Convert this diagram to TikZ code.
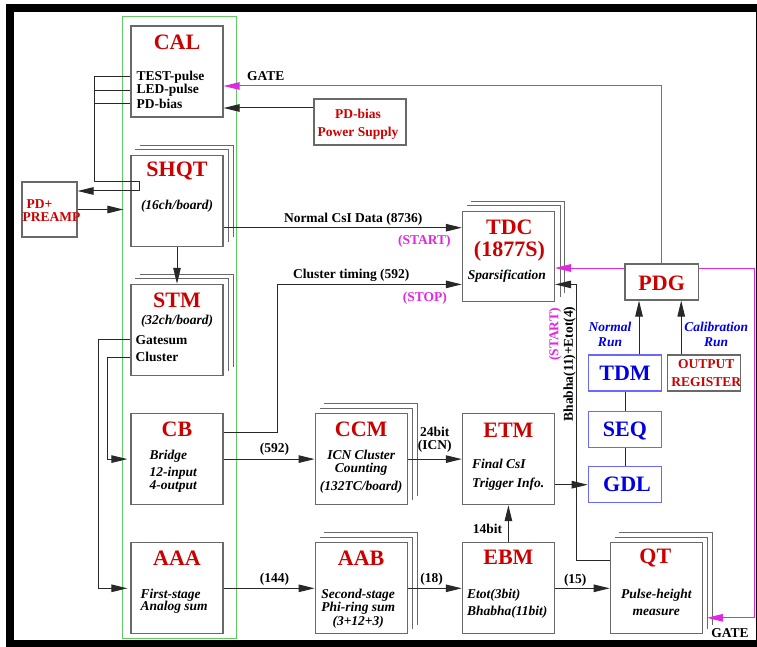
\documentclass[tikz,border=0pt]{standalone}
\usepackage{fontspec}
\setmainfont{Liberation Serif}
\usetikzlibrary{positioning,arrows.meta}
\definecolor{boxgray}{RGB}{105,105,105}
\definecolor{wiregray}{RGB}{40,40,40}
\definecolor{gatemag}{RGB}{225,40,225}
\definecolor{titlered}{RGB}{205,0,0}
\definecolor{runblue}{RGB}{0,0,225}
\definecolor{blueedge}{RGB}{105,105,255}
\definecolor{groupgreen}{RGB}{95,205,95}

\begin{document}
\begin{tikzpicture}[x=1pt,y=-1pt,>={Triangle[length=16pt,width=7.5pt]},
  blk/.style={draw=boxgray,line width=1.2pt,minimum width=92pt,minimum height=91pt,inner sep=0pt},
  sblk/.style={blk,minimum width=73.4pt,minimum height=36pt},
  ttl/.style={inner sep=0pt,text=titlered,align=center,font=\fontsize{22}{21.7}\selectfont\bfseries},
  bttl/.style={ttl,text=runblue},
  lbl/.style={inner sep=0pt,align=center,font=\fontsize{13.5}{13.4}\selectfont\bfseries},
  sub/.style={inner sep=0pt,align=center,font=\fontsize{13.5}{12.3}\selectfont\bfseries\itshape},
  run/.style={sub,text=runblue,font=\fontsize{13.5}{15.6}\selectfont\bfseries\itshape},
  wire/.style={draw=wiregray,line width=1pt},
  mag/.style={draw=gatemag,line width=1pt}]
\useasboundingbox (0,0) rectangle (757,647);
\fill (6,4) rectangle (757,647);
\fill[white] (14,12) rectangle (755.5,640);
\draw[groupgreen,line width=1pt] (122,17) rectangle (236,638);

\node[blk] (cal) at (177,71.5) {};
\node[blk,below=37pt of cal] (shqt) {};
\node[blk,below=37pt of shqt] (stm) {};
\node[blk,below=37pt of stm] (cb) {};
\node[blk,below=37pt of cb] (aaa) {};
\node[blk,right=91pt of cb] (ccm) {};
\node[blk,right=91pt of aaa] (aab) {};
\node[blk,right=54pt of ccm] (etm) {};
\node[blk,right=54pt of aab] (ebm) {};
\node[blk,right=54.7pt of ebm] (qt) {};
\node[blk,minimum height=90pt,above=111pt of etm] (tdc) {};
\node[blk,minimum height=46pt] (psu) at (360,122) {};
\node[blk,minimum width=55pt,minimum height=55pt] (preamp) at (49.5,209.5) {};
\node[sblk] (pdg) at (661.7,282) {};
\node[sblk,draw=blueedge] (tdm) at (625,373) {};
\node[sblk,draw=blueedge,below=19pt of tdm] (seq) {};
\node[sblk,draw=blueedge,below=18.3pt of seq] (gdl) {};
\node[sblk,right=4.3pt of tdm] (outreg) {};
\foreach \n in {shqt,stm,tdc,ccm,aab,qt}
  \foreach \d in {5,9.5}
    \draw[boxgray,line width=1pt] ([shift={(\d pt,\d pt)}]\n.north west) -| ([shift={(\d pt,\d pt)}]\n.south east);

\node[ttl] (calt) at ([yshift=29pt]cal.center) {CAL};
\node[lbl,anchor=west] (testp) at ([xshift=6pt,yshift=-5.5pt]cal.west) {TEST-pulse};
\node[lbl,anchor=west] (ledp) at ([xshift=6pt,yshift=-19pt]cal.west) {LED-pulse};
\node[lbl,anchor=west] (pdb) at ([xshift=6pt,yshift=-32.5pt]cal.west) {PD-bias};
\node[ttl] (shqtt) at ([yshift=30pt]shqt.center) {SHQT};
\node[sub] (shqts) at ([yshift=-5.5pt]shqt.center) {(16ch/board)};
\node[ttl] (stmt) at ([yshift=30pt]stm.center) {STM};
\node[sub] (stms) at ([yshift=8.2pt]stm.center) {(32ch/board)};
\node[lbl,anchor=west] (gsum) at ([xshift=5pt,yshift=-9.8pt]stm.west) {Gatesum};
\node[lbl,anchor=west] (clus) at ([xshift=5pt,yshift=-27.2pt]stm.west) {Cluster};
\node[ttl] (cbt) at ([yshift=30pt]cb.center) {CB};
\node[sub,anchor=west,align=left] (cbs) at ([xshift=19pt,yshift=-12pt]cb.west) {Bridge\\[4.7pt]12-input\\4-output};
\node[ttl] (aaat) at ([yshift=30pt]aaa.center) {AAA};
\node[sub,anchor=west,align=left] (aaas) at ([xshift=10pt,yshift=-13.2pt]aaa.west) {First-stage\\Analog sum};
\node[ttl] (ccmt) at ([yshift=30pt]ccm.center) {CCM};
\node[sub] (ccms) at ([yshift=-13pt]ccm.center) {ICN Cluster\\Counting\\[6.4pt](132TC/board)};
\node[ttl] (aabt) at ([yshift=30pt]aab.center) {AAB};
\node[sub] (aabs) at ([xshift=-3pt,yshift=-20.4pt]aab.center) {Second-stage\\Phi-ring sum\\[1.9pt](3+12+3)};
\node[ttl] (etmt) at ([yshift=29pt]etm.center) {ETM};
\node[sub,anchor=west,align=left] (etms) at ([xshift=10pt,yshift=-15.5pt]etm.west) {Final CsI\\[7pt]Trigger Info.};
\node[ttl] (ebmt) at ([yshift=30.5pt]ebm.center) {EBM};
\node[sub,anchor=west,align=left] (ebms) at ([xshift=5pt,yshift=-15.5pt]ebm.west) {Etot(3bit)\\[5.1pt]Bhabha(11bit)};
\node[ttl] (qtt) at ([xshift=-1pt,yshift=30pt]qt.center) {QT};
\node[sub] (qts) at ([yshift=-14pt]qt.center) {Pulse-height\\[5.1pt]measure};
\node[ttl] (tdct) at ([xshift=1pt,yshift=16pt]tdc.center) {TDC\\(1877S)};
\node[sub] (tdcs) at ([xshift=-1.5pt,yshift=-19.8pt]tdc.center) {Sparsification};
\node[lbl,text=titlered,font=\fontsize{13.5}{18.4}\selectfont\bfseries] (psut) at ([xshift=-2pt,yshift=-2pt]psu.center) {PD-bias\\Power Supply};
\node[lbl,text=titlered,anchor=west,align=left,font=\fontsize{13.5}{13}\selectfont\bfseries] (preampt) at ([xshift=1pt,yshift=-1pt]preamp.west) {\hspace*{4pt}PD+\\PREAMP};
\node[ttl] (pdgt) at ([yshift=-1.3pt]pdg.center) {PDG};
\node[bttl] (tdmt) at (tdm.center) {TDM};
\node[bttl] (seqt) at ([yshift=-1.5pt]seq.center) {SEQ};
\node[bttl] (gdlt) at ([xshift=2pt]gdl.center) {GDL};
\node[lbl,text=titlered,font=\fontsize{13.5}{17.7}\selectfont\bfseries] (outregt) at ([xshift=2.3pt]outreg.center) {OUTPUT\\REGISTER};

\draw[wire,->] (cal.west |- testp) -- ++(-36,0) -- ++(0,105) -- ++(45,0) -- ++(0,9) -- ([yshift=18.5pt]preamp.east);
\draw[wire] (cal.west |- ledp) -- ++(-36,0);
\draw[wire] (cal.west |- pdb) -- ++(-36,0);
\draw[wire,->,shorten >=7pt] (preamp.east) -- (preamp.east -| shqt.west);
\draw[wire,->] ([yshift=14pt]psu.west) -- ([yshift=14pt]psu.west -| cal.east);
\draw[wire,->] (shqt) -- (stm);
\draw[wire,->] ([yshift=-27pt]shqt.east) -- ([yshift=-27pt]shqt.east -| tdc.west)
  node[lbl,pos=.544,yshift=8.7pt] (csilbl) {Normal CsI Data (8736)}
  node[lbl,text=gatemag,pos=.843,yshift=-13.7pt] (startlbl) {(START)};
\draw[wire,->] ([yshift=27pt]cb.east) -- ++(54,0) |- ([yshift=-28pt]tdc.west)
  node[lbl,pos=.7,yshift=9pt] (ctlbl) {Cluster timing (592)}
  node[lbl,text=gatemag,pos=.9,yshift=-14pt] (stoplbl) {(STOP)};
\draw[wire,->,shorten >=3pt] (stm.west |- gsum) -- ++(-32,0) |- (aaa.west);
\draw[wire,->,shorten >=3pt] (stm.west |- clus) -- ++(-22.5,0) |- (cb.west);
\draw[wire,->] (cb) -- (ccm) node[lbl,pos=.56,yshift=9.5pt] (l592) {(592)};
\draw[wire,->] (aaa) -- (aab) node[lbl,pos=.56,yshift=9pt] (l144) {(144)};
\draw[wire,->] (ccm) -- (etm) node[lbl,midway,yshift=19.2pt] (icnlbl) {24bit\\(ICN)};
\draw[wire,->] (aab) -- (ebm) node[lbl,pos=.44,yshift=9.5pt] (l18) {(18)};
\draw[wire,->] (ebm) -- (etm) node[lbl,midway,xshift=-21pt,yshift=-5.5pt] (l14) {14bit};
\draw[wire,->] (ebm) -- (qt) node[lbl,pos=.37,yshift=8.5pt] (l15) {(15)};
\draw[wire,->] (gdl.west -| etm.east) -- (gdl.west);
\draw[wire,->] ([yshift=28pt]qt.west) -- ++(-33,0) |- ([yshift=-28pt]tdc.east);
\node[lbl,rotate=90] (bblbl) at ([xshift=14.5pt,yshift=-62pt]tdc.south east) {Bhabha(11)+Etot(4)};
\node[lbl,text=gatemag,rotate=90] (startr) at ([yshift=-32.7pt]tdc.south east) {(START)};
\draw[wire,->] ([xshift=14pt]tdm.north) -- ([xshift=14pt]tdm.north |- pdg.south)
  node[run,midway,xshift=-29pt,yshift=-7pt] (nrun) {Normal\\Run};
\draw[wire,->] ([xshift=-22.7pt]outreg.north) -- ([xshift=-22.7pt]outreg.north |- pdg.south)
  node[run,midway,xshift=35pt,yshift=-7pt] (crun) {Calibration\\Run};
\draw[wire] (tdm) -- (seq);
\draw[wire] (seq) -- (gdl);
\draw[mag,->] (pdg.north) |- ([yshift=-14.5pt]cal.east) node[lbl,pos=.952,yshift=9.5pt] (gate1) {GATE};
\draw[mag,->] ([yshift=14pt]pdg.west) -- ([yshift=14pt]pdg.west -| tdc.east);
\draw[mag,->,shorten >=4pt] ([yshift=14pt]pdg.east) -- ++(55,0) |- ([yshift=-29.5pt]qt.east)
  node[lbl,pos=.735,yshift=-15pt] (gate2) {GATE};
\end{tikzpicture}
\end{document}
